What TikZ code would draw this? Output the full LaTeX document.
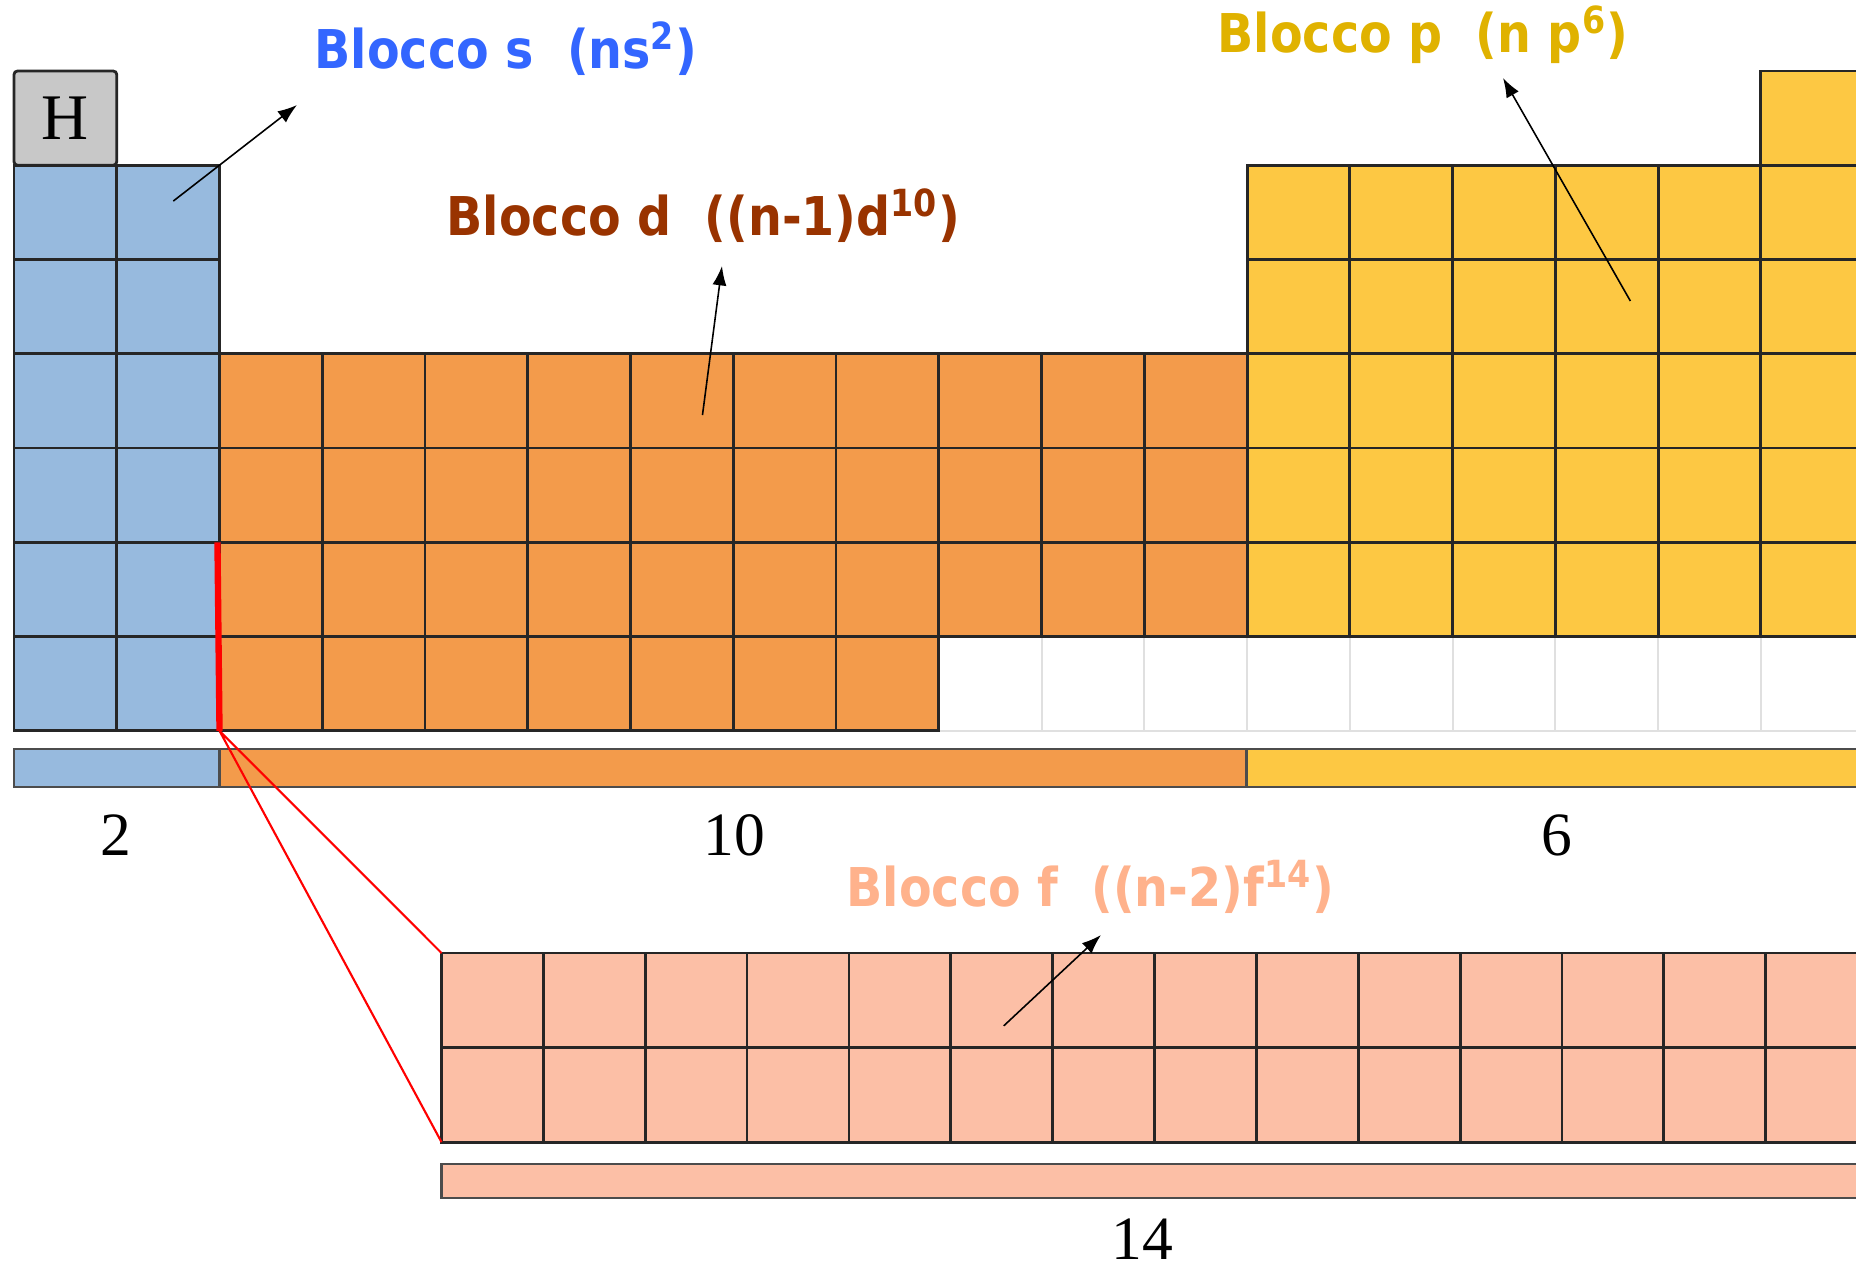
\documentclass[tikz,border=0pt]{standalone}
\usepackage{fontspec}
\usepackage{tikz}
\usetikzlibrary{arrows.meta,calc}
\newfontfamily\labfont{DejaVu Sans}[FakeStretch=0.89]
\newfontfamily\numfont{Liberation Serif}
\definecolor{sblue}{RGB}{151,186,222}
\definecolor{dorange}{RGB}{243,155,75}
\definecolor{pyellow}{RGB}{253,200,67}
\definecolor{fsalmon}{RGB}{252,191,166}
\definecolor{hgray}{RGB}{200,200,200}
\definecolor{stxt}{RGB}{51,102,255}
\definecolor{dtxt}{RGB}{153,51,0}
\definecolor{ptxt}{RGB}{224,178,0}
\definecolor{ftxt}{RGB}{255,178,140}

\begin{document}
\begin{tikzpicture}[x=0.01cm,y=-0.01cm]
\tikzset{cell/.style={draw=black!85,line width=0.8pt},
  blank/.style={draw=black!12,line width=0.6pt,fill=white},
  bar/.style={draw=black!70,line width=0.8pt},
  lab/.style={inner sep=0pt,anchor=base west,font=\labfont\bfseries\fontsize{15.2}{18}\selectfont},
  num/.style={inner sep=0pt,font=\numfont\fontsize{17.5}{20}\selectfont},
  pointer/.style={-{Latex[length=5.5pt,width=4pt]},line width=0.45pt}}
\useasboundingbox (0,0) rectangle (1856,1269);
\clip (0,0) rectangle (1856,1269);

% main table, one unit = one cell
\begin{scope}[shift={(14,71)},x=1.027cm,y=-0.942cm]
\foreach \c in {9,...,17} \draw[blank] (\c,6) rectangle +(1,1);
\draw[cell,fill=hgray,rounded corners=1pt] (0,0) rectangle (1,1);
\node[num,font=\numfont\fontsize{18.5}{20}\selectfont] (h) at (0.5,0.5) {H};
\foreach \c in {0,1} \foreach \r in {1,...,6}
  \draw[cell,fill=sblue] (\c,\r) rectangle +(1,1);
\foreach \c in {2,...,11} \foreach \r in {3,4,5}
  \draw[cell,fill=dorange] (\c,\r) rectangle +(1,1);
\foreach \c in {2,...,8} \draw[cell,fill=dorange] (\c,6) rectangle +(1,1);
\foreach \c in {12,...,17} \foreach \r in {1,...,5}
  \draw[cell,fill=pyellow] (\c,\r) rectangle +(1,1);
\draw[cell,fill=pyellow] (17,0) rectangle +(1,1);
\coordinate (sin) at (1.55,1.38);
\coordinate (din) at (6.70,3.65);
\coordinate (pin) at (15.73,2.44);
\coordinate (top) at (1.98,5);
\coordinate (cut) at (2,7);
\end{scope}

% f block
\begin{scope}[shift={(441.5,953)},x=1.018cm,y=-0.945cm]
\foreach \c in {0,...,13} \foreach \r in {0,1}
  \draw[cell,fill=fsalmon] (\c,\r) rectangle +(1,1);
\coordinate (ftl) at (0,0);
\coordinate (fbl) at (0,2);
\coordinate (fin) at (5.52,0.77);
\end{scope}

% counting bars
\draw[bar,fill=sblue] (14,749) rectangle (219.4,787);
\draw[bar,fill=dorange] (219.4,749) rectangle (1246.4,787);
\draw[bar,fill=pyellow] (1246.4,749) rectangle (1880,787);
\draw[bar,fill=fsalmon] (441.5,1164) rectangle (1880,1198);
\node[num] (n2) at (116,835) {2};
\node[num] (n10) at (734,835) {10};
\node[num] (n6) at (1557,835) {6};
\node[num] (n14) at (1142,1239) {14};

% where the f block fits in
\draw[red,line width=1.8pt] (top) -- (cut);
\draw[red,line width=0.6pt] (cut) -- (ftl) (cut) -- (fbl);

% block labels
\node[lab,text=stxt] (ls) at (314,68) {Blocco s~~(ns\textsuperscript{2})};
\node[lab,text=dtxt] (ld) at (446,235) {Blocco d~~((n-1)d\textsuperscript{10})};
\node[lab,text=ptxt] (lp) at (1217,52) {Blocco p~~(n p\textsuperscript{6})};
\node[lab,text=ftxt] (lf) at (846,906) {Blocco f~~((n-2)f\textsuperscript{14})};
\coordinate (stip) at (297,105);
\coordinate (dtip) at (722,266);
\coordinate (ptip) at (1503,78);
\coordinate (ftip) at (1101,935);
\draw[pointer] (sin) -- (stip);
\draw[pointer] (din) -- (dtip);
\draw[pointer] (pin) -- (ptip);
\draw[pointer] (fin) -- (ftip);
\end{tikzpicture}
\end{document}
